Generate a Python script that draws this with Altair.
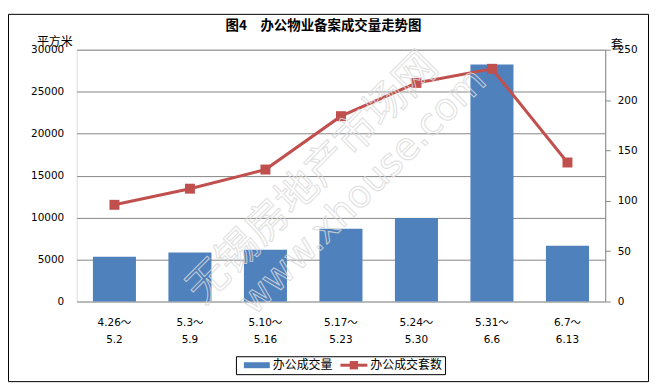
import altair as alt
import pandas as pd

# ---- data ----
periods = ["4.26～5.2", "5.3～5.9", "5.10～5.16", "5.17～5.23",
           "5.24～5.30", "5.31～6.6", "6.7～6.13"]
area = [5340, 5850, 6170, 8660, 9950, 28220, 6640]       # 办公成交量 (平方米)
units = [96, 112, 131, 184, 217, 231, 138]                # 办公成交套数 (套)
area_ticks = [0, 5000, 10000, 15000, 20000, 25000, 30000]
unit_ticks = [0, 50, 100, 150, 200, 250]

title_text = "图4　办公物业备案成交量走势图"
legend_bar = "办公成交量"
legend_line = "办公成交套数"

df = pd.DataFrame({"period": periods, "area": area, "units": units})
one = pd.DataFrame({"k": [0]})

W, H = 531, 253
GRID = "#868686"
BLUE = "#4F81BD"
RED = "#C0504D"
NUMFONT = "DejaVu Sans, Noto Sans CJK SC"
CJK = "Noto Sans CJK SC"

x_enc = alt.X(
    "period:N", sort=periods,
    scale=alt.Scale(paddingInner=0.43, paddingOuter=0.215),
    axis=alt.Axis(
        title=None, labelAngle=0, domain=False, ticks=False, grid=False,
        labelExpr="[split(datum.label,'～')[0] + '～', split(datum.label,'～')[1]]",
        labelFont=NUMFONT, labelFontSize=10.5, labelColor="#000",
        labelLineHeight=17, labelPadding=16,
    ),
)

bars = alt.Chart(df).mark_bar(color=BLUE).encode(
    x=x_enc,
    y=alt.Y(
        "area:Q",
        scale=alt.Scale(domain=[0, 30000], nice=False),
        axis=alt.Axis(
            values=area_ticks, format="d", domain=False, ticks=False,
            grid=True, gridColor=GRID, gridWidth=1,
            labelFont=NUMFONT, labelFontSize=10.5, labelColor="#000",
            labelPadding=13,
            title="平方米", titleFont=CJK, titleFontSize=12,
            titleFontWeight="normal", titleColor="#000", titleAngle=0,
            titleX=-22.5, titleY=-8.5, titleAlign="center",
            titleBaseline="middle",
        ),
    ),
)

y_units = alt.Y(
    "units:Q",
    scale=alt.Scale(domain=[0, 250], nice=False),
    axis=alt.Axis(
        orient="right", values=unit_ticks, grid=False,
        domain=True, domainColor=GRID, domainWidth=1,
        ticks=True, tickColor=GRID, tickSize=5, tickWidth=1,
        labelFont=NUMFONT, labelFontSize=10.5, labelColor="#000",
        labelPadding=7,
        title="套", titleFont=CJK, titleFontSize=12,
        titleFontWeight="normal", titleColor="#000", titleAngle=0,
        titleX=11, titleY=-5, titleAlign="center", titleBaseline="middle",
    ),
)

line = alt.Chart(df).mark_line(color=RED, strokeWidth=3).encode(x=x_enc, y=y_units)
pts = alt.Chart(df).mark_point(shape="square", filled=True, size=100,
                               color=RED, opacity=1).encode(x=x_enc, y=y_units)
line_layer = alt.layer(line, pts)

# watermark (outlined, faint)
wm1 = alt.Chart(one).mark_text(
    text="无锡房地产市场网", angle=315, font=CJK, fontSize=42,
    fill="transparent", stroke="#dadada", strokeWidth=1, opacity=0.85,
    align="center", baseline="middle",
).encode(x=alt.value(237), y=alt.value(129))
wm2 = alt.Chart(one).mark_text(
    text="www.xhouse.com", angle=315, font="DejaVu Sans", fontSize=38,
    fill="transparent", stroke="#dadada", strokeWidth=1, opacity=0.85,
    align="center", baseline="middle",
).encode(x=alt.value(288), y=alt.value(143))

# legend (drawn)
leg_box = alt.Chart(one).mark_rect(fill="white", stroke="#000", strokeWidth=1).encode(
    x=alt.value(160.5), x2=alt.value(370.5), y=alt.value(308.5), y2=alt.value(326.5))
leg_bar = alt.Chart(one).mark_rect(color=BLUE).encode(
    x=alt.value(168), x2=alt.value(194), y=alt.value(314), y2=alt.value(320))
leg_t1 = alt.Chart(one).mark_text(text=legend_bar, font=CJK, fontSize=12, color="#000",
                                   align="left", baseline="middle").encode(
    x=alt.value(197), y=alt.value(317))
leg_line = alt.Chart(one).mark_rule(color=RED, strokeWidth=3).encode(
    x=alt.value(265), x2=alt.value(292), y=alt.value(317))
leg_sq = alt.Chart(one).mark_point(shape="square", filled=True, size=70, color=RED,
                                   opacity=1).encode(x=alt.value(278.5), y=alt.value(317))
leg_t2 = alt.Chart(one).mark_text(text=legend_line, font=CJK, fontSize=12, color="#000",
                                   align="left", baseline="middle").encode(
    x=alt.value(295), y=alt.value(317))

# outer frame and title
frame = alt.Chart(one).mark_rect(fill="transparent", stroke="#000", strokeWidth=1).encode(
    x=alt.value(-68.5), x2=alt.value(574.5), y=alt.value(-35.5), y2=alt.value(333.5))
title = alt.Chart(one).mark_text(text=title_text, font=CJK, fontSize=13.5,
                                  fontWeight="bold", color="#000",
                                  align="center", baseline="middle").encode(
    x=alt.value(248), y=alt.value(-24))

chart = alt.layer(
    frame, bars, line_layer, wm1, wm2,
    leg_box, leg_bar, leg_t1, leg_line, leg_sq, leg_t2, title,
).resolve_scale(y="independent").properties(
    width=W, height=H,
    autosize=alt.AutoSizeParams(type="none"),
    padding={"left": 69, "top": 41, "right": 46, "bottom": 81},
).configure_view(strokeWidth=0).configure(background="white")

chart.save("out.html", embed_options={"renderer": "svg", "actions": False})
